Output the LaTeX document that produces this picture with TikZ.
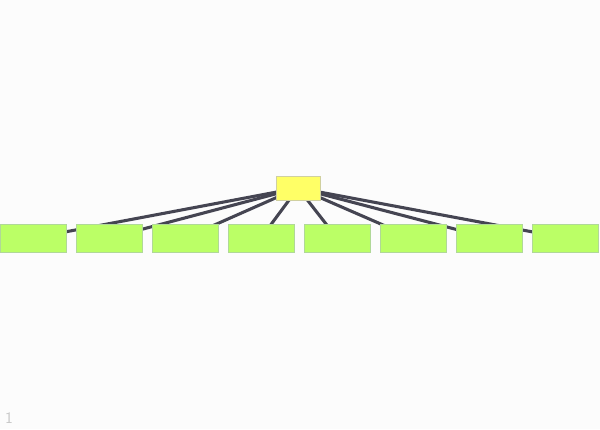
\documentclass[tikz,border=0pt]{standalone}
\usetikzlibrary{backgrounds}
\definecolor{bgcol}{HTML}{FCFCFC}
\definecolor{topfill}{HTML}{FFFF66}
\definecolor{topline}{HTML}{D0D0A0}
\definecolor{leaffill}{HTML}{BBFF66}
\definecolor{leafline}{HTML}{B0D898}
\definecolor{edgecol}{HTML}{454552}
\tikzset{
    topbox/.style={draw=topline, fill=topfill, line width=0.6pt, minimum width=33pt, minimum height=18pt, inner sep=0pt},
    leafbox/.style={draw=leafline, fill=leaffill, line width=0.6pt, minimum width=49.5pt, minimum height=21pt, inner sep=0pt},
    edge/.style={draw=edgecol, line width=2.3pt}
}
\begin{document}
\begin{tikzpicture}[x=0.75pt, y=-0.75pt]
    \useasboundingbox (0,0) rectangle (600,429);
    \node[topbox] (top) at (298,188) {};
    \node[leafbox] (g1) at (33,238) {};
    \node[leafbox] (g2) at (109,238) {};
    \node[leafbox] (g3) at (185,238) {};
    \node[leafbox] (g4) at (261,238) {};
    \node[leafbox] (g5) at (337,238) {};
    \node[leafbox] (g6) at (413,238) {};
    \node[leafbox] (g7) at (489,238) {};
    \node[leafbox] (g8) at (565,238) {};
    \begin{pgfonlayer}{background}
    \fill[bgcol] (0,0) rectangle (600,429);
    \draw[edge] (top.center) -- (g1.center);
    \draw[edge] (top.center) -- (g2.center);
    \draw[edge] (top.center) -- (g3.center);
    \draw[edge] (top.center) -- (g4.center);
    \draw[edge] (top.center) -- (g5.center);
    \draw[edge] (top.center) -- (g6.center);
    \draw[edge] (top.center) -- (g7.center);
    \draw[edge] (top.center) -- (g8.center);
    \end{pgfonlayer}
    \node[text=black!22, font=\sffamily\large, inner sep=0pt] (page) at (9,418) {1};
\end{tikzpicture}
\end{document}
